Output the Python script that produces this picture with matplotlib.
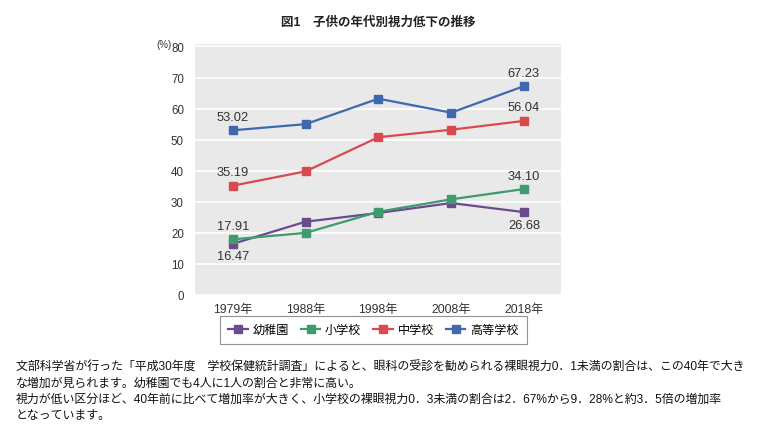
import matplotlib
matplotlib.use("Agg")
from matplotlib import pyplot as plt

plt.rcParams['font.family'] = ['Liberation Sans', 'Noto Sans CJK JP', 'DejaVu Sans']

years = ["1979年", "1988年", "1998年", "2008年", "2018年"]
kindergarten = [16.47, 23.6, 26.4, 29.6, 26.68]
elementary = [17.91, 20.0, 26.8, 30.8, 34.10]
junior_high = [35.19, 39.8, 50.8, 53.2, 56.04]
high_school = [53.02, 55.0, 63.2, 58.7, 67.23]

series_names = ["幼稚園", "小学校", "中学校", "高等学校"]
series_values = [kindergarten, elementary, junior_high, high_school]
colors = ["#6b4a8e", "#3d9b6e", "#d94a4f", "#4068b0"]

# labels shown only at the first and last year; True -> label below the point
label_below = [True, False, False, False]

title = "図1　子供の年代別視力低下の推移"
notes = [
    "文部科学省が行った「平成30年度　学校保健統計調査」によると、眼科の受診を勧められる裸眼視力0．1未満の割合は、この40年で大き",
    "な増加が見られます。幼稚園でも4人に1人の割合と非常に高い。",
    "視力が低い区分ほど、40年前に比べて増加率が大きく、小学校の裸眼視力0．3未満の割合は2．67%から9．28%と約3．5倍の増加率",
    "となっています。",
]

fig = plt.figure(figsize=(7.6, 4.39), dpi=100)
ax = fig.add_axes([195 / 760, 1 - 296 / 439, 366 / 760, 251 / 439])
ax.set_facecolor("#e9e9e9")
for side in ax.spines.values():
    side.set_visible(False)

x = list(range(len(years)))
for name, values, color, below in zip(series_names, series_values, colors, label_below):
    ax.plot(x, values, color=color, linewidth=1.6, marker="s", markersize=5.5,
            label=name, zorder=3)
    for i in (0, len(x) - 1):
        offset = -12.5 if below else 13.5
        ax.annotate(f"{values[i]:.2f}", (x[i], values[i]),
                    xytext=(0, offset * 72 / 100), textcoords="offset points",
                    ha="center", va="center", fontsize=9.3, color="#333333")

ax.set_xlim(-0.52, 4.51)
ax.set_ylim(0, 80.8)
ax.set_yticks(range(0, 81, 10))
ax.set_xticks(x)
ax.set_xticklabels(years)
ax.tick_params(axis="both", length=0, labelcolor="#333333")
ax.tick_params(axis="y", labelsize=8.3, pad=8)
ax.tick_params(axis="x", labelsize=8.8, pad=6)
ax.yaxis.grid(True, color="white", linewidth=1.2)
ax.set_axisbelow(True)

fig.text(172 / 760, 1 - 45 / 439, "(%)", fontsize=7, color="#333333",
         ha="right", va="center")
fig.text(378 / 760, 1 - 23 / 439, title, fontsize=9, fontweight="bold",
         ha="center", va="center", color="#222222")

leg = ax.legend(loc="center", bbox_to_anchor=(373.5 / 760, 1 - 331 / 439),
                bbox_transform=fig.transFigure, ncol=4, fontsize=8.7,
                frameon=True, fancybox=False, handlelength=1.6,
                handletextpad=0.4, columnspacing=1.0, borderpad=0.7)
leg.get_frame().set_edgecolor("#777777")
leg.get_frame().set_linewidth(0.8)

for i, line in enumerate(notes):
    fig.text(16 / 760, 1 - (368 + 16 * i) / 439, line, fontsize=8.6,
             ha="left", va="center", color="#111111")

fig.savefig("out.png", dpi=100, facecolor="white")
